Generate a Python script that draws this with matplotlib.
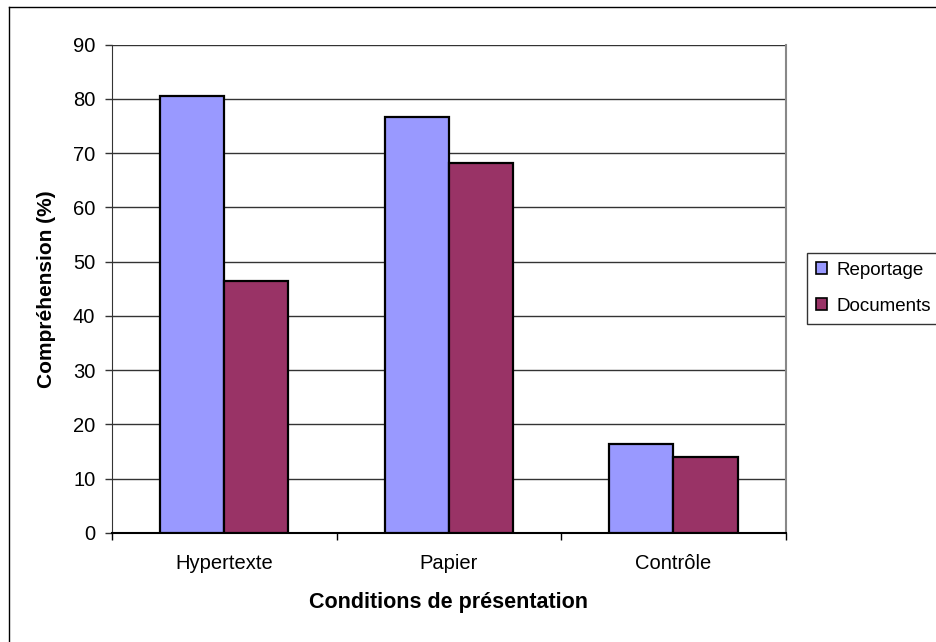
import numpy as np
import matplotlib
matplotlib.use('Agg')
import matplotlib.pyplot as plt
from matplotlib.lines import Line2D

matplotlib.rcParams['font.family'] = ['Liberation Sans', 'DejaVu Sans']

# data
conditions = ['Hypertexte', 'Papier', 'Contrôle']
reportage = [80.6, 76.6, 16.4]
documents = [46.4, 68.2, 14.0]
series_names = ['Reportage', 'Documents']
colors = ['#9999FF', '#993366']

fig = plt.figure(figsize=(9.37, 6.42), dpi=100)
fig.set_facecolor('white')
ax = fig.add_axes([0.1195, 0.1702, 0.8385 - 0.1195, 0.9304 - 0.1702])

x = np.arange(len(conditions))
w = 1 / 3.5
ax.bar(x - w / 2, reportage, w, color=colors[0], edgecolor='black', linewidth=1.6,
       label=series_names[0], zorder=3)
ax.bar(x + w / 2, documents, w, color=colors[1], edgecolor='black', linewidth=1.6,
       label=series_names[1], zorder=3)

ax.set_xlim(-0.5, len(conditions) - 0.5)
ax.set_ylim(0, 90)
ax.set_yticks(np.arange(0, 91, 10))
ax.yaxis.grid(True, color='#333333', linewidth=1)
ax.set_axisbelow(True)

# category boundaries as major ticks, names as minor ticks
ax.set_xticks(np.arange(-0.5, len(conditions), 1))
ax.set_xticklabels([])
ax.set_xticks(x, minor=True)
ax.set_xticklabels(conditions, minor=True, fontsize=14.5)
ax.tick_params(axis='x', which='major', direction='out', length=5, width=1, color='black')
ax.tick_params(axis='x', which='minor', length=0, pad=15)
ax.tick_params(axis='y', direction='out', length=5, width=1, pad=7, labelsize=14.5, color='#333333')

ax.spines['top'].set_visible(False)
ax.spines['right'].set_color('#888888')
ax.spines['right'].set_linewidth(1.5)
ax.spines['left'].set_color('#333333')
ax.spines['bottom'].set_color('black')
ax.spines['bottom'].set_linewidth(1.5)

ax.set_xlabel('Conditions de présentation', fontsize=15.5, fontweight='bold', labelpad=14)
ax.set_ylabel('Compréhension (%)', fontsize=15, fontweight='bold', labelpad=12)

leg = ax.legend(loc='lower left', bbox_to_anchor=(0.861, 0.4953), bbox_transform=fig.transFigure,
                borderaxespad=0, fontsize=13.5, frameon=True, fancybox=False,
                handlelength=0.6, handleheight=0.6, handletextpad=0.5,
                labelspacing=1.0, borderpad=0.5)
leg.get_frame().set_edgecolor('black')
leg.get_frame().set_linewidth(1)
for h in leg.legend_handles:
    h.set_linewidth(1.2)

# outer chart border (only left and top visible in the picture)
fig.add_artist(Line2D([9 / 937, 9 / 937], [0, 1 - 7 / 642], transform=fig.transFigure,
                      color='black', linewidth=1))
fig.add_artist(Line2D([9 / 937, 1], [1 - 7 / 642, 1 - 7 / 642], transform=fig.transFigure,
                      color='black', linewidth=1))

fig.savefig('out.png', dpi=100, facecolor='white')
